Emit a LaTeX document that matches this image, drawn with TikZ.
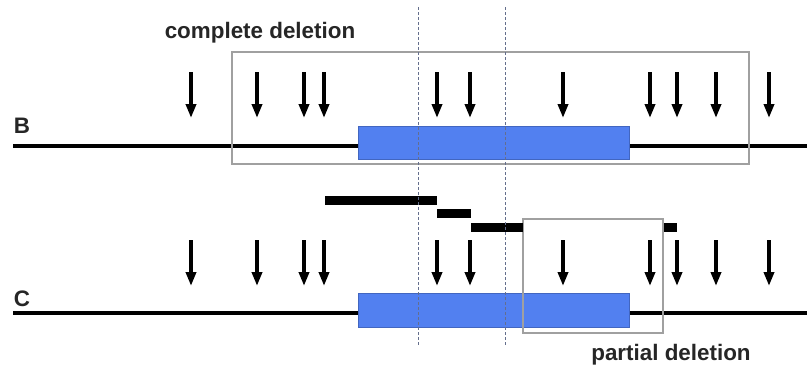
\documentclass[tikz,border=0pt]{standalone}
\usepackage{fontspec}
\setmainfont{Liberation Sans}
\usetikzlibrary{arrows.meta}
\definecolor{exonblue}{RGB}{82,128,240}
\definecolor{boxgray}{RGB}{160,160,160}
\definecolor{guide}{RGB}{100,110,140}
\begin{document}
\begin{tikzpicture}[x=1pt,y=-1pt,
  site/.style={line width=3.6pt,-{Triangle[width=10pt,length=14pt]},shorten >=-1pt},
  gene/.style={line width=3.8pt},
  exon/.style={fill=exonblue,draw=exonblue!80!black,line width=0.6pt},
  delbox/.style={draw=boxgray,line width=1.4pt},
  bar/.style={line width=9pt},
  guideline/.style={draw=guide,line width=0.9pt,dash pattern=on 3pt off 2pt},
  lbl/.style={font=\bfseries\fontsize{22.4}{26}\selectfont,inner sep=0pt,text=black!85}]
\fill[white] (0,0) rectangle (807,370);
\useasboundingbox (0,0) rectangle (807,370);
% labels
\node[lbl] (lB) at (22,126) {B};
\node[lbl] (lC) at (22,299) {C};
\node[lbl] (lcomp) at (260,33) {complete deletion};
\node[lbl] (lpart) at (671,355) {partial deletion};
% gene lines
\coordinate (b0) at (13,146); \coordinate (b1) at (807,146);
\coordinate (c0) at (13,313); \coordinate (c1) at (807,313);
\draw[gene] (b0) -- (b1);
\draw[gene] (c0) -- (c1);
% exons
\draw[exon] (358,126) rectangle (629,159);
\draw[exon] (358,293) rectangle (629,327);
% deletion boxes
\draw[delbox] (232,52) rectangle (749,164);
\draw[delbox] (523,219) rectangle (663,333);
% arrows
\foreach \x in {191,257,304,324,437,470,563,650,677,716,769}{
  \coordinate (ta\x) at (\x,72); \coordinate (tb\x) at (\x,117);
  \draw[site] (ta\x) -- (tb\x);
  \coordinate (ua\x) at (\x,240); \coordinate (ub\x) at (\x,285);
  \draw[site] (ua\x) -- (ub\x);
}
% bars
\draw[bar] (325,200) -- (437,200);
\draw[bar] (437,213) -- (471,213);
\draw[bar] (471,227) -- (523,227);
\draw[bar] (664,227) -- (677,227);
% guide lines
\draw[guideline] (418,7) -- (418,345);
\draw[guideline] (505,7) -- (505,345);
\end{tikzpicture}
\end{document}
